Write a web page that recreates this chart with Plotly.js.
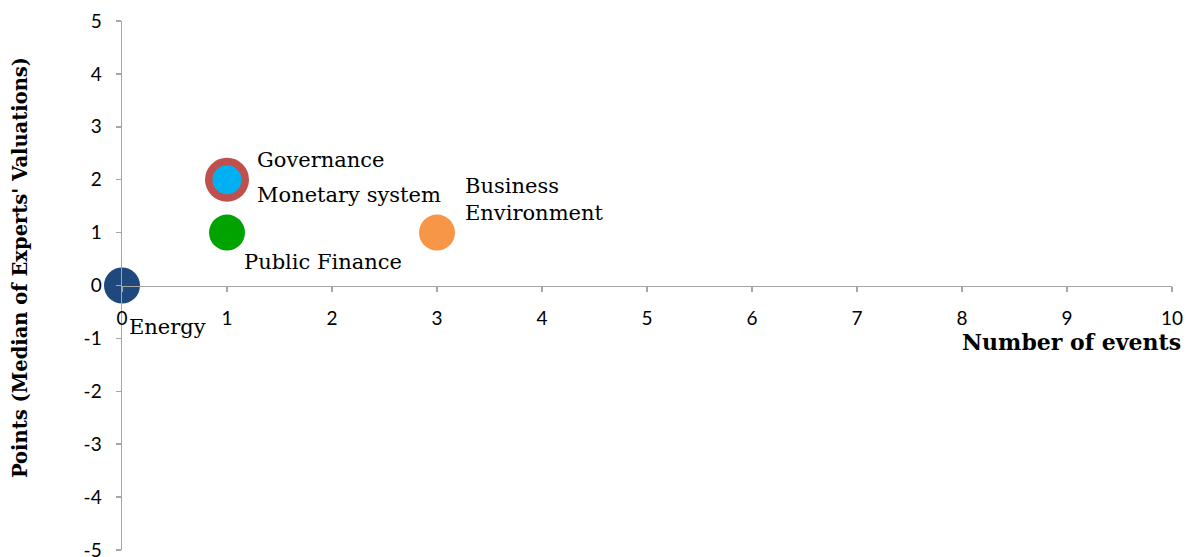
<!DOCTYPE html>
<html>
<head>
<meta charset="utf-8">
<script src="https://cdn.plot.ly/plotly-3.0.1.min.js"></script>
<style>html,body{margin:0;padding:0;background:#fff;}#chart{width:1187px;height:557px;}</style>
</head>
<body>
<div id="chart"></div>
<script>
// Data
const names = ["Governance", "Monetary system", "Public Finance", "Business Environment", "Energy"];
const events = [1, 1, 1, 3, 0];
const points = [2, 2, 1, 1, 0];
const colors = ["#C0504D", "#00B0F0", "#00A300", "#F79646", "#1F497D"];
const sizes = [44, 29, 36, 36, 36];
const labelText = ["Governance", "Monetary system", "Public Finance", "Business<br>Environment", "Energy"];
const labelShiftX = [28, 28, 15, 26, 5];
const labelShiftY = [20, -15, -29, 33, -41];

const xTicks = [0,1,2,3,4,5,6,7,8,9,10];
const yTicks = [-5,-4,-3,-2,-1,0,1,2,3,4,5];

const serif = "DejaVu Serif, Liberation Serif, serif";

const traces = names.map((n, i) => ({
  type: "scatter", mode: "markers", name: n,
  x: [events[i]], y: [points[i]],
  marker: {color: colors[i], size: sizes[i], line: {width: 0}},
  cliponaxis: false, hoverinfo: "x+y+name"
}));

const ann = names.map((n, i) => ({
  x: events[i], y: points[i], xref: "x", yref: "y",
  text: labelText[i], showarrow: false,
  xanchor: "left", yanchor: "middle", align: "left",
  xshift: labelShiftX[i], yshift: labelShiftY[i],
  font: {family: serif, size: 21, color: "#000"}
}));

ann.push({
  xref: "paper", yref: "paper", x: 1, y: 0.393, xshift: 11,
  xanchor: "right", yanchor: "middle", showarrow: false,
  text: "<b>Number of events</b>",
  font: {family: serif, size: 22, color: "#000"}
});
ann.push({
  xref: "paper", yref: "paper", x: 0, y: 0.533, xshift: -102,
  xanchor: "center", yanchor: "middle", showarrow: false, textangle: -90,
  text: "<b>Points (Median of Experts' Valuations)</b>",
  font: {family: serif, size: 19.5, color: "#000"}
});

const axisCol = "#A6A6A6";
const layout = {
  width: 1187, height: 557,
  margin: {l: 122, r: 15, t: 21, b: 7},
  paper_bgcolor: "#fff", plot_bgcolor: "#fff",
  showlegend: false,
  xaxis: {
    range: [0, 10], anchor: "free", position: 0.5,
    showgrid: false, zeroline: false, showline: true,
    linecolor: axisCol, linewidth: 1.5,
    ticks: "outside", ticklen: 5, tickcolor: axisCol, tickwidth: 1.5,
    tickvals: xTicks, ticktext: xTicks.map(String),
    ticklabelstandoff: 10,
    tickfont: {family: "Lato, Open Sans, sans-serif", size: 19, color: "#000"}
  },
  yaxis: {
    range: [-5, 5],
    showgrid: false, zeroline: false, showline: true,
    linecolor: axisCol, linewidth: 1.5,
    ticks: "outside", ticklen: 5, tickcolor: axisCol, tickwidth: 1.5,
    tickvals: yTicks, ticktext: yTicks.map(String),
    ticklabelstandoff: 10, ticklabeloverflow: "allow",
    tickfont: {family: "Lato, Open Sans, sans-serif", size: 19, color: "#000"}
  },
  annotations: ann
};

Plotly.newPlot("chart", traces, layout, {displayModeBar: false, staticPlot: true});
</script>
</body>
</html>
